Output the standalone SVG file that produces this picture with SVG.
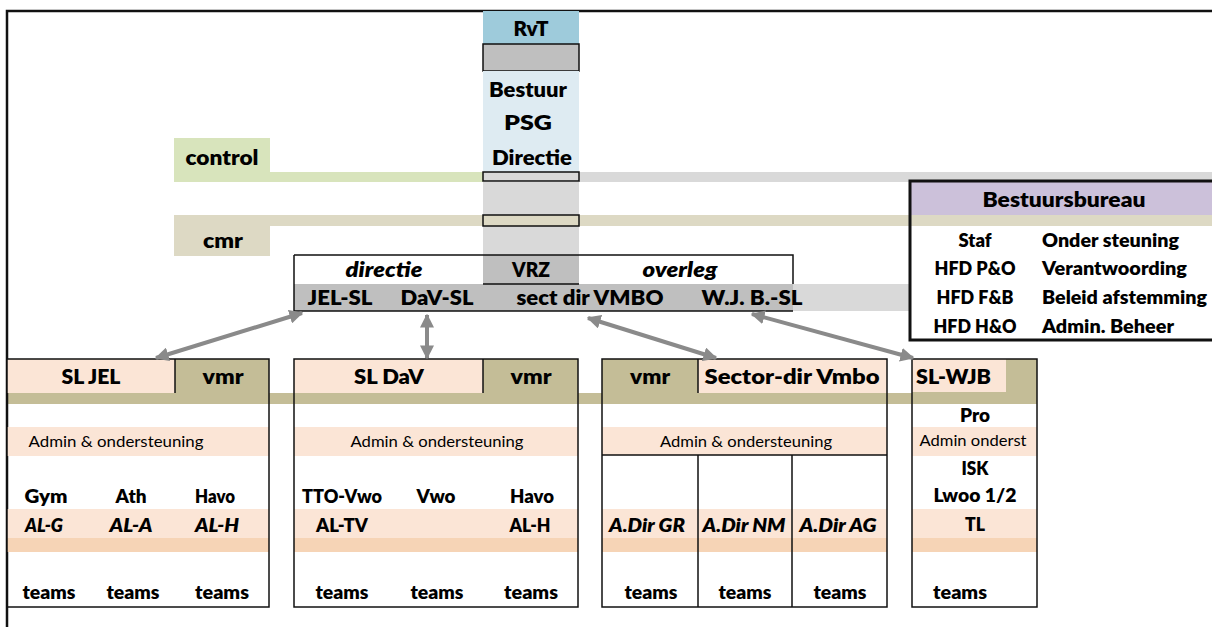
<svg xmlns="http://www.w3.org/2000/svg" width="1212" height="627" viewBox="0 0 1212 627">
<defs>
<style>
.f{font-family:Lato,"Open Sans","Liberation Sans",sans-serif;font-weight:800;fill:#000}
.m{text-anchor:middle}
.i{font-style:italic}
.r{font-weight:400}
.h{font-size:20.5px}
.s{font-size:18px}
.a{font-size:15.5px}
.ln{stroke:#111;stroke-width:1.5;fill:none}
.pk{fill:#FBE5D6}
.ol{fill:#C4BD97}
.pc{fill:#F6D4B6}
.arr{stroke:#8A8A8A;stroke-width:4;fill:none;marker-start:url(#ah);marker-end:url(#ah)}
</style>
<marker id="ah" viewBox="0 0 10 10" refX="9" refY="5" markerWidth="14" markerHeight="14" markerUnits="userSpaceOnUse" orient="auto-start-reverse">
<path d="M0,0 L10,5 L0,10 z" fill="#8A8A8A"/>
</marker>
</defs>
<rect width="1212" height="627" fill="#fff"/>

<g id="bands">
<rect x="174" y="172" width="309" height="10" fill="#D8E4BC"/>
<rect x="579" y="172" width="633" height="10" fill="#D9D9D9"/>
<rect x="174" y="215" width="1038" height="11" fill="#DDD9C4"/>
<rect x="7" y="393" width="1030" height="11" class="ol"/>
</g>

<g id="frame">
<path d="M7,627 V11 H1212" fill="none" stroke="#111" stroke-width="2.5"/>
</g>

<g id="control">
<rect x="174" y="138" width="96" height="34" fill="#D8E4BC"/>
<text class="f m" x="222" y="165" font-size="21.5" textLength="73" lengthAdjust="spacingAndGlyphs">control</text>
</g>

<g id="cmr">
<rect x="174" y="226" width="96" height="30" fill="#DDD9C4"/>
<text class="f m" x="223" y="248" font-size="21.5" textLength="40" lengthAdjust="spacingAndGlyphs">cmr</text>
</g>

<g id="governance">
<rect x="483" y="11" width="96" height="33" fill="#9ECBDB"/>
<rect x="483" y="44" width="96" height="27" class="ln" style="fill:#BFBFBF"/>
<rect x="483" y="71" width="96" height="101" fill="#DEEBF2"/>
<rect x="483" y="182" width="96" height="33" fill="#D9D9D9"/>
<rect x="483" y="226" width="96" height="29" fill="#D9D9D9"/>
<rect x="483" y="172" width="96" height="9" class="ln" style="fill:#D9D9D9"/>
<rect x="483" y="215" width="96" height="11" class="ln" style="fill:#DDD9C4"/>
<text class="f m" x="531" y="36" font-size="20.5" textLength="35" lengthAdjust="spacingAndGlyphs">RvT</text>
<text class="f m" x="528" y="97" font-size="21.5" textLength="78" lengthAdjust="spacingAndGlyphs">Bestuur</text>
<text class="f m" x="528" y="130" font-size="21.5" textLength="48" lengthAdjust="spacingAndGlyphs">PSG</text>
<text class="f m" x="532" y="165" font-size="21.5" textLength="80" lengthAdjust="spacingAndGlyphs">Directie</text>
</g>

<g id="directie-overleg">
<rect x="294" y="284" width="499" height="27" fill="#BFBFBF"/>
<rect x="793" y="284" width="117" height="27" fill="#D9D9D9"/>
<rect x="483" y="255" width="96" height="29" fill="#BFBFBF"/>
<path class="ln" d="M294,255 H793 V284 M294,255 V311 H793 M483,284 H579"/>
<text class="f m i" x="384" y="277" font-size="21.5" textLength="77" lengthAdjust="spacingAndGlyphs">directie</text>
<text class="f m" x="531" y="277" font-size="21.5" textLength="38" lengthAdjust="spacingAndGlyphs">VRZ</text>
<text class="f m i" x="680" y="277" font-size="21.5" textLength="75" lengthAdjust="spacingAndGlyphs">overleg</text>
<text class="f m" x="340" y="305" font-size="21.5" textLength="65" lengthAdjust="spacingAndGlyphs">JEL-SL</text>
<text class="f m" x="437" y="305" font-size="21.5" textLength="73" lengthAdjust="spacingAndGlyphs">DaV-SL</text>
<text class="f m" x="590" y="305" font-size="21.5" textLength="147" lengthAdjust="spacingAndGlyphs">sect dir VMBO</text>
<text class="f m" x="752" y="305" font-size="21.5" textLength="101" lengthAdjust="spacingAndGlyphs">W.J. B.-SL</text>
</g>

<g id="bestuursbureau">
<rect x="910" y="181" width="302" height="34" fill="#CCC1DA"/>
<rect x="910" y="181" width="306" height="159" fill="none" stroke="#111" stroke-width="3"/>
<text class="f m" x="1064" y="207" font-size="20.5" textLength="163" lengthAdjust="spacingAndGlyphs">Bestuursbureau</text>
<text class="f m" x="975" y="247" font-size="18.5" textLength="33" lengthAdjust="spacingAndGlyphs">Staf</text>
<text class="f m" x="975" y="275" font-size="18.5" textLength="81" lengthAdjust="spacingAndGlyphs">HFD P&amp;O</text>
<text class="f m" x="975" y="304" font-size="18.5" textLength="77" lengthAdjust="spacingAndGlyphs">HFD F&amp;B</text>
<text class="f m" x="975" y="333" font-size="18.5" textLength="83" lengthAdjust="spacingAndGlyphs">HFD H&amp;O</text>
<text class="f" x="1042" y="247" font-size="18.5" textLength="137" lengthAdjust="spacingAndGlyphs">Onder steuning</text>
<text class="f" x="1042" y="275" font-size="18.5" textLength="145" lengthAdjust="spacingAndGlyphs">Verantwoording</text>
<text class="f" x="1042" y="304" font-size="18.5" textLength="165" lengthAdjust="spacingAndGlyphs">Beleid afstemming</text>
<text class="f" x="1042" y="333" font-size="18.5" textLength="132" lengthAdjust="spacingAndGlyphs">Admin. Beheer</text>
</g>

<g id="box-sl-jel">
<rect x="7" y="359" width="168" height="34" class="pk"/>
<rect x="175" y="359" width="94" height="34" class="ol"/>
<rect x="7" y="427" width="262" height="29" class="pk"/>
<rect x="7" y="509" width="262" height="29" class="pk"/>
<rect x="7" y="538" width="262" height="14" class="pc"/>
<path class="ln" d="M175,359 V393"/>
<rect x="7" y="359" width="262" height="248" class="ln"/>
<text class="f m h" x="91" y="384" textLength="59" lengthAdjust="spacingAndGlyphs">SL JEL</text>
<text class="f m h" x="223" y="384" textLength="41" lengthAdjust="spacingAndGlyphs">vmr</text>
<text class="f m r a" x="116" y="447" textLength="175" lengthAdjust="spacingAndGlyphs">Admin &amp; ondersteuning</text>
<text class="f m s" x="46" y="503" textLength="43" lengthAdjust="spacingAndGlyphs">Gym</text>
<text class="f m s" x="131" y="503" textLength="31" lengthAdjust="spacingAndGlyphs">Ath</text>
<text class="f m s" x="215" y="503" textLength="40" lengthAdjust="spacingAndGlyphs">Havo</text>
<text class="f m i s" x="44" y="532" textLength="38" lengthAdjust="spacingAndGlyphs">AL-G</text>
<text class="f m i s" x="131" y="532" textLength="43" lengthAdjust="spacingAndGlyphs">AL-A</text>
<text class="f m i s" x="217" y="532" textLength="44" lengthAdjust="spacingAndGlyphs">AL-H</text>
<text class="f m s" x="49" y="599" textLength="53" lengthAdjust="spacingAndGlyphs">teams</text>
<text class="f m s" x="133" y="599" textLength="53" lengthAdjust="spacingAndGlyphs">teams</text>
<text class="f m s" x="222" y="599" textLength="54" lengthAdjust="spacingAndGlyphs">teams</text>
</g>

<g id="box-sl-dav">
<rect x="294" y="359" width="189" height="34" class="pk"/>
<rect x="483" y="359" width="95" height="34" class="ol"/>
<rect x="294" y="427" width="284" height="29" class="pk"/>
<rect x="294" y="509" width="284" height="29" class="pk"/>
<rect x="294" y="538" width="284" height="14" class="pc"/>
<path class="ln" d="M483,359 V393"/>
<rect x="294" y="359" width="284" height="248" class="ln"/>
<text class="f m h" x="389" y="384" textLength="70" lengthAdjust="spacingAndGlyphs">SL DaV</text>
<text class="f m h" x="531" y="384" textLength="41" lengthAdjust="spacingAndGlyphs">vmr</text>
<text class="f m r a" x="437" y="447" textLength="173" lengthAdjust="spacingAndGlyphs">Admin &amp; ondersteuning</text>
<text class="f m s" x="342" y="503" textLength="80" lengthAdjust="spacingAndGlyphs">TTO-Vwo</text>
<text class="f m s" x="436" y="503" textLength="39" lengthAdjust="spacingAndGlyphs">Vwo</text>
<text class="f m s" x="532" y="503" textLength="44" lengthAdjust="spacingAndGlyphs">Havo</text>
<text class="f m s" x="342" y="532" textLength="52" lengthAdjust="spacingAndGlyphs">AL-TV</text>
<text class="f m s" x="530" y="532" textLength="41" lengthAdjust="spacingAndGlyphs">AL-H</text>
<text class="f m s" x="342" y="599" textLength="53" lengthAdjust="spacingAndGlyphs">teams</text>
<text class="f m s" x="437" y="599" textLength="53" lengthAdjust="spacingAndGlyphs">teams</text>
<text class="f m s" x="531" y="599" textLength="54" lengthAdjust="spacingAndGlyphs">teams</text>
</g>

<g id="box-sector-vmbo">
<rect x="602" y="359" width="96" height="34" class="ol"/>
<rect x="698" y="359" width="189" height="34" class="pk"/>
<rect x="602" y="427" width="285" height="28" class="pk"/>
<rect x="602" y="509" width="285" height="29" class="pk"/>
<rect x="602" y="538" width="285" height="14" class="pc"/>
<path class="ln" d="M698,359 V393 M602,455 H887 M698,455 V607 M792,455 V607"/>
<rect x="602" y="359" width="285" height="248" class="ln"/>
<text class="f m h" x="650" y="384" textLength="40" lengthAdjust="spacingAndGlyphs">vmr</text>
<text class="f m h" x="792" y="384" textLength="175" lengthAdjust="spacingAndGlyphs">Sector-dir  Vmbo</text>
<text class="f m r a" x="746" y="447" textLength="172" lengthAdjust="spacingAndGlyphs">Admin &amp; ondersteuning</text>
<text class="f m i s" x="647" y="532" textLength="76" lengthAdjust="spacingAndGlyphs">A.Dir GR</text>
<text class="f m i s" x="744" y="532" textLength="83" lengthAdjust="spacingAndGlyphs">A.Dir NM</text>
<text class="f m i s" x="838" y="532" textLength="77" lengthAdjust="spacingAndGlyphs">A.Dir AG</text>
<text class="f m s" x="651" y="599" textLength="53" lengthAdjust="spacingAndGlyphs">teams</text>
<text class="f m s" x="745" y="599" textLength="53" lengthAdjust="spacingAndGlyphs">teams</text>
<text class="f m s" x="840" y="599" textLength="53" lengthAdjust="spacingAndGlyphs">teams</text>
</g>

<g id="box-sl-wjb">
<rect x="912" y="359" width="125" height="34" class="ol"/>
<rect x="912" y="359" width="94" height="33" class="pk"/>
<rect x="912" y="427" width="125" height="29" class="pk"/>
<rect x="912" y="509" width="125" height="29" class="pk"/>
<rect x="912" y="538" width="125" height="14" class="pc"/>
<rect x="912" y="359" width="125" height="248" class="ln"/>
<text class="f h" x="916" y="384" textLength="75" lengthAdjust="spacingAndGlyphs">SL-WJB</text>
<text class="f m s" x="975" y="422" textLength="30" lengthAdjust="spacingAndGlyphs">Pro</text>
<text class="f m r a" x="973" y="446" textLength="107" lengthAdjust="spacingAndGlyphs">Admin onderst</text>
<text class="f m s" x="975" y="475" textLength="27" lengthAdjust="spacingAndGlyphs">ISK</text>
<text class="f m s" x="975" y="502" textLength="83" lengthAdjust="spacingAndGlyphs">Lwoo 1/2</text>
<text class="f m s" x="975" y="531" textLength="20" lengthAdjust="spacingAndGlyphs">TL</text>
<text class="f m s" x="960" y="599" textLength="54" lengthAdjust="spacingAndGlyphs">teams</text>
</g>

<g id="connectors">
<line class="arr" x1="302" y1="313" x2="156" y2="358"/>
<line class="arr" x1="427" y1="315" x2="427" y2="358"/>
<line class="arr" x1="588" y1="318" x2="716" y2="358"/>
<line class="arr" x1="752" y1="314" x2="913" y2="358"/>
</g>
</svg>
